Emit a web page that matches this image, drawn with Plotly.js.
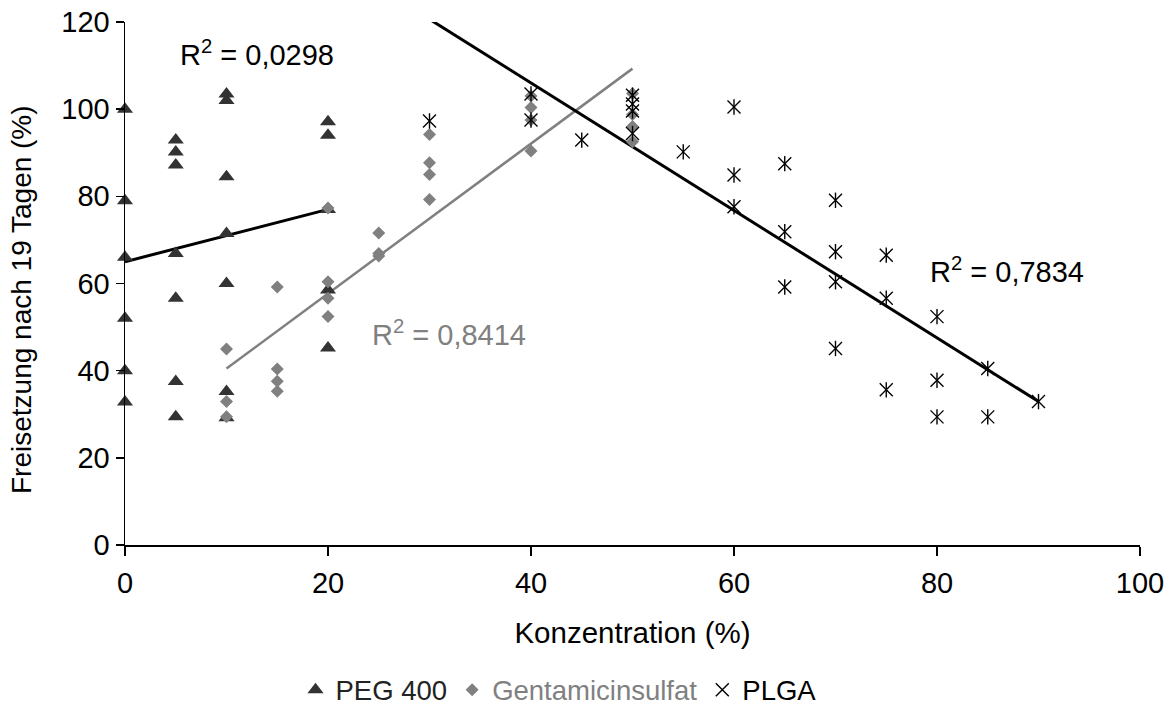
<!DOCTYPE html>
<html>
<head>
<meta charset="utf-8">
<script src="https://cdn.plot.ly/plotly-3.0.1.min.js"></script>
<style>html,body{margin:0;padding:0;background:#fff;}#chart{width:1170px;height:716px;}</style>
</head>
<body>
<div id="chart"></div>
<script>
// PEG 400 (triangles)
const pegX = [0,0,0,0,0,0, 5,5,5,5,5,5,5, 10,10,10,10,10,10,10, 20,20,20,20,20];
const pegY = [100,79,66,52,40,32.8, 92.9,90.2,87.2,66.9,56.6,37.5,29.4, 103.5,102,84.5,71.5,60,35.2,29.2, 97.1,94,77,58.5,45.2];
// Gentamicinsulfat (diamonds)
const gentX = [10,10,10, 15,15,15,15, 20,20,20,20, 25,25,25, 30,30,30,30, 40,40,40,40, 50,50,50,50];
const gentY = [45,32.9,29.4, 59.2,40.4,37.6,35.3, 77.3,60.4,56.6,52.4, 71.6,66.9,66.3, 94.2,87.7,85,79.3, 103,100.4,97.5,90.4, 103.6,98.8,96,92.5];
// PLGA (stars)
const plgaX = [30, 40,40, 45, 50,50,50,50, 55, 60,60,60, 65,65,65, 70,70,70,70, 75,75,75, 80,80,80, 85,85, 90];
const plgaY = [97.3, 103.5,97.5, 92.9, 103.2,101.2,99.6,94.4, 90.2, 100.5,84.9,77.6, 87.5,71.9,59.2, 79.1,67.3,60.4,45.1, 66.5,56.6,35.6, 52.4,37.8,29.4, 40.5,29.4, 32.9];

// Linear trendlines
const fitSlopes = [0.6, 1.72, -1.462];
const fitIntercepts = [65, 23.3, 164.5];
const fitFrom = [0, 10, 30];
const fitTo = [20, 50, 90];
const fitR2 = ['0,0298', '0,8414', '0,7834'];
const fitLabelX = [5.2, 24.1, 79.1];
const fitLabelY = [113, 48.6, 63.1];

const FONT = 'Liberation Sans, Arial, sans-serif';
const lineColors = ['#000000', '#808080', '#000000'];
const lineWidths = [3, 2.5, 3];

const traces = [];
for (let i = 0; i < 3; i++) {
  traces.push({
    x: [fitFrom[i], fitTo[i]],
    y: [fitIntercepts[i] + fitSlopes[i]*fitFrom[i], fitIntercepts[i] + fitSlopes[i]*fitTo[i]],
    mode: 'lines', type: 'scatter', showlegend: false, hoverinfo: 'skip',
    line: {color: lineColors[i], width: lineWidths[i]}
  });
}
traces.push({
  x: pegX, y: pegY, mode: 'markers', type: 'scatter', name: '<span style="color:#222">PEG 400</span>',
  cliponaxis: false,
  marker: {symbol: 'triangle-up', size: 14, color: '#333333'}
});
traces.push({
  x: gentX, y: gentY, mode: 'markers', type: 'scatter', name: '<span style="color:#808080">Gentamicinsulfat</span>',
  cliponaxis: false,
  marker: {symbol: 'diamond', size: 10, color: '#808080'}
});
traces.push({
  x: plgaX, y: plgaY, mode: 'markers', type: 'scatter', name: 'PLGA', legendgroup: 'plga',
  cliponaxis: false,
  marker: {symbol: 'x-thin-open', size: 13, color: '#000', line: {color: '#000', width: 1.4}}
});
traces.push({
  x: plgaX, y: plgaY, mode: 'markers', type: 'scatter', name: 'PLGA', legendgroup: 'plga', showlegend: false,
  cliponaxis: false,
  marker: {symbol: 'line-ns-open', size: 11, color: '#000', line: {color: '#000', width: 1.4}}
});

const annotations = fitR2.map((r, i) => ({
  x: fitLabelX[i], y: fitLabelY[i], xref: 'x', yref: 'y',
  xanchor: 'left', yanchor: 'middle', showarrow: false,
  text: 'R<sup>2</sup> = ' + r,
  font: {family: FONT, size: 29, color: lineColors[i]}
}));
annotations.push({
  x: (22 - 125) / 1015, y: (545 - 300) / 523, xref: 'paper', yref: 'paper',
  xanchor: 'center', yanchor: 'middle', showarrow: false, textangle: -90,
  text: 'Freisetzung nach 19 Tagen (%)',
  font: {family: FONT, size: 28, color: '#000'}
});

const layout = {
  width: 1170, height: 716,
  margin: {l: 125, r: 30, t: 22, b: 171, pad: 0, autoexpand: false},
  paper_bgcolor: '#fff', plot_bgcolor: '#fff',
  font: {family: FONT, size: 29, color: '#000'},
  showlegend: true,
  legend: {orientation: 'h', x: 0.168, xanchor: 'left', y: -0.277, yanchor: 'middle',
           font: {family: FONT, size: 27.5, color: '#000'}, itemclick: false, tracegroupgap: 0},
  xaxis: {
    range: [0, 100], tick0: 0, dtick: 20, ticks: 'outside', ticklen: 9, tickwidth: 1.5, tickcolor: '#000',
    showline: true, linecolor: '#000', linewidth: 1.5, showgrid: false, zeroline: false,
    ticklabelstandoff: 3,
    tickfont: {family: FONT, size: 29, color: '#000'},
    title: {text: 'Konzentration (%)', font: {family: FONT, size: 29.5, color: '#000'}, standoff: 24}
  },
  yaxis: {
    range: [0, 120], tick0: 0, dtick: 20, ticks: 'outside', ticklen: 8, tickwidth: 1.5, tickcolor: '#000',
    showline: true, linecolor: '#000', linewidth: 1.5, showgrid: false, zeroline: false,
    tickfont: {family: FONT, size: 29, color: '#000'}
  },
  annotations: annotations
};

Plotly.newPlot('chart', traces, layout, {displayModeBar: false, staticPlot: true});
</script>
</body>
</html>
